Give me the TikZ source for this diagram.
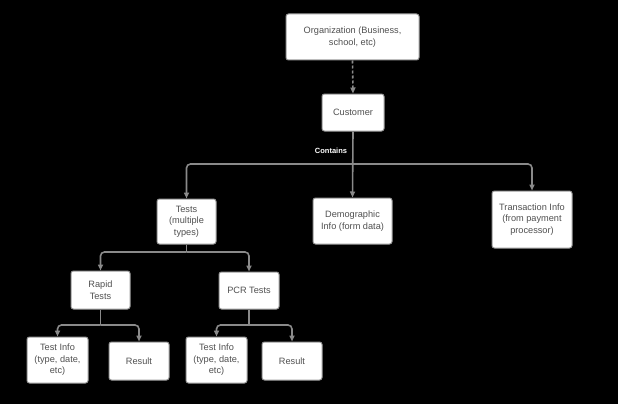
\documentclass[tikz,border=0pt]{standalone}
\usepackage{fontspec}
\setmainfont{Liberation Sans}
\usetikzlibrary{arrows.meta}
\definecolor{txt}{HTML}{505050}
\definecolor{edge}{HTML}{8A8A8A}
\definecolor{bord}{HTML}{9A9A9A}
\tikzset{
  box/.style={draw=bord, line width=1pt, fill=white, rounded corners=2.5pt, align=center,
    text=txt, font=\fontsize{9.2}{11.5}\selectfont, inner sep=0pt},
  conn/.style={draw=edge, line width=1.6pt, rounded corners=4pt,
    -{Triangle[length=6pt,width=5pt]}},
}
\begin{document}
\begin{tikzpicture}[x=1pt,y=-1pt]
\fill[black] (0,0) rectangle (618,404);
\useasboundingbox (0,0) rectangle (618,404);
\node[box, minimum width=133pt, minimum height=46pt] (org) at (352.5,37) {Organization (Business,\\school, etc)};
\node[box, minimum width=62pt, minimum height=37pt] (cust) at (353,112.5) {Customer};
\node[box, minimum width=59pt, minimum height=45pt] (tests) at (186.5,221.5) {Tests\\(multiple\\types)};
\node[box, minimum width=79pt, minimum height=46pt] (demo) at (352.5,221) {Demographic\\Info (form data)};
\node[box, minimum width=80pt, minimum height=57pt] (trans) at (532,219.5) {Transaction Info\\(from payment\\processor)};
\node[box, minimum width=59pt, minimum height=38pt] (rapid) at (100.5,290) {Rapid\\Tests};
\node[box, minimum width=60pt, minimum height=37pt] (pcr) at (249,290.5) {PCR Tests};
\node[box, minimum width=61pt, minimum height=46pt] (ti1) at (57.5,360) {Test Info\\(type, date,\\etc)};
\node[box, minimum width=60pt, minimum height=38pt] (res1) at (139,361) {Result};
\node[box, minimum width=61pt, minimum height=46pt] (ti2) at (216.5,360) {Test Info\\(type, date,\\etc)};
\node[box, minimum width=60pt, minimum height=38pt] (res2) at (292,361) {Result};
% connectors
\draw[conn, dashed, dash pattern=on 3pt off 2pt] (org.south) -- (cust.north);
\coordinate (j1) at (353,164);
\draw[conn] (cust.south) -- (demo.north);
\draw[conn] (j1) -| (tests.north);
\draw[conn] (j1) -| (trans.north);
\node[text=white, font=\fontsize{7.5}{8}\selectfont\bfseries, inner sep=0pt] (lab) at (331,150.5) {Contains};
\coordinate (j2) at (186.5,252);
\draw[draw=edge, line width=1.6pt] (tests.south) -- (j2);
\draw[conn] (j2) -| (rapid.north);
\draw[conn] (j2) -| (pcr.north);
\coordinate (j3) at (100.5,325);
\draw[draw=edge, line width=1.6pt] (rapid.south) -- (j3);
\draw[conn] (j3) -| (ti1.north);
\draw[conn] (j3) -| (res1.north);
\coordinate (j4) at (249,325);
\draw[draw=edge, line width=1.6pt] (pcr.south) -- (j4);
\draw[conn] (j4) -| (ti2.north);
\draw[conn] (j4) -| (res2.north);
\end{tikzpicture}
\end{document}
